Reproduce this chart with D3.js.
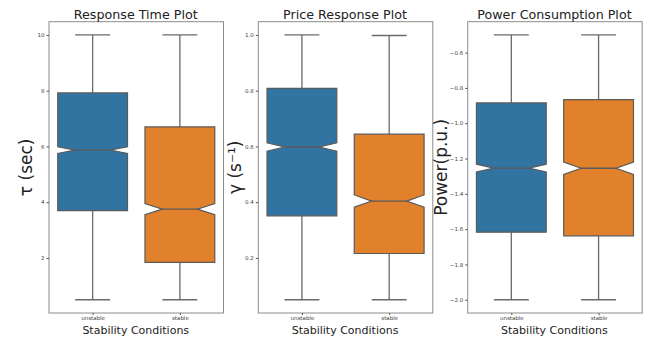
<!DOCTYPE html>
<html><head><meta charset="utf-8">
<script src="https://cdn.jsdelivr.net/npm/d3@7"></script>
<style>body{margin:0;background:#fff}svg{display:block}</style>
</head><body>
<svg id="c" width="650" height="337"></svg>
<script>
const categories = ["unstable", "stable"];

const titles = ["Response Time Plot", "Price Response Plot", "Power Consumption Plot"];
const yLabels = ["τ (sec)", "γ (s⁻¹)", "Power(p.u.)"];
const xLabel = "Stability Conditions";

// Response time box stats [unstable, stable]
const rtLow = [0.5, 0.5];
const rtQ1 = [3.70, 1.84];
const rtMed = [5.87, 3.75];
const rtQ3 = [7.92, 6.70];
const rtHigh = [10, 10];
const rtNotch = [0.12, 0.2];
const rtTicks = [2, 4, 6, 8, 10];

// Price response box stats
const prLow = [0.05, 0.05];
const prQ1 = [0.351, 0.216];
const prMed = [0.598, 0.404];
const prQ3 = [0.808, 0.644];
const prHigh = [1.0, 0.998];
const prNotch = [0.015, 0.022];
const prTicks = [0.2, 0.4, 0.6, 0.8, 1.0];

// Power consumption box stats
const pwLow = [-2.0, -2.0];
const pwQ1 = [-1.617, -1.638];
const pwMed = [-1.254, -1.255];
const pwQ3 = [-0.885, -0.866];
const pwHigh = [-0.5, -0.5];
const pwNotch = [0.022, 0.035];
const pwTicks = [-2.0, -1.8, -1.6, -1.4, -1.2, -1.0, -0.8, -0.6];

const colors = ["#3274a1", "#e1812c"];
const lineColor = "#6a6a6a";

const panels = [
  {low: rtLow, q1: rtQ1, med: rtMed, q3: rtQ3, high: rtHigh, notch: rtNotch, ticks: rtTicks, fmt: d3.format("d")},
  {low: prLow, q1: prQ1, med: prMed, q3: prQ3, high: prHigh, notch: prNotch, ticks: prTicks, fmt: d3.format(".1f")},
  {low: pwLow, q1: pwQ1, med: pwMed, q3: pwQ3, high: pwHigh, notch: pwNotch, ticks: pwTicks, fmt: d => d3.format(".1f")(d).replace("-", "−")}
];

const svg = d3.select("#c");
const lefts = [49, 258.3, 467.7];
const yLabelX = [25.5, 235, 441];
const pw = 174.5, plotTop = 21.7, plotBottom = 313;

panels.forEach((p, i) => {
  const x0 = lefts[i];
  const lo = d3.min(p.low), hi = d3.max(p.high);
  const m = (hi - lo) * 0.05;
  const y = d3.scaleLinear().domain([lo - m, hi + m]).range([plotBottom, plotTop]);
  const x = d3.scaleLinear().domain([-0.5, 1.5]).range([x0, x0 + pw]);
  const bw = (x(1) - x(0)) * 0.8;
  const g = svg.append("g");

  // frame
  g.append("rect").attr("x", x0).attr("y", plotTop).attr("width", pw).attr("height", plotBottom - plotTop)
    .attr("fill", "none").attr("stroke", "#8c8c8c").attr("stroke-width", 1);

  // y axis ticks
  const ya = d3.axisLeft(y).tickValues(p.ticks).tickFormat(p.fmt).tickSize(2.5).tickPadding(2);
  const yg = g.append("g").attr("transform", `translate(${x0},0)`).call(ya);
  yg.select(".domain").remove();
  yg.selectAll("line").attr("stroke", "#555");
  yg.selectAll("text").attr("font-family", "DejaVu Sans").attr("font-size", 5.5).attr("fill", "#444");

  // x axis ticks
  const xa = d3.axisBottom(x).tickValues([0, 1]).tickFormat(d => categories[d]).tickSize(2).tickPadding(1.5);
  const xg = g.append("g").attr("transform", `translate(0,${plotBottom})`).call(xa);
  xg.select(".domain").remove();
  xg.selectAll("line").attr("stroke", "#555");
  xg.selectAll("text").attr("font-family", "DejaVu Sans").attr("font-size", 5.5).attr("fill", "#444");

  categories.forEach((c, k) => {
    const cx = x(k);
    const bl = cx - bw / 2, br = cx + bw / 2;
    const nl = cx - bw / 4, nr = cx + bw / 4;
    const capL = cx - bw / 4, capR = cx + bw / 4;
    const nLo = p.med[k] - p.notch[k], nHi = p.med[k] + p.notch[k];
    // whiskers
    g.append("line").attr("x1", cx).attr("x2", cx).attr("y1", y(p.low[k])).attr("y2", y(p.q1[k]))
      .attr("stroke", lineColor).attr("stroke-width", 1.3);
    g.append("line").attr("x1", cx).attr("x2", cx).attr("y1", y(p.q3[k])).attr("y2", y(p.high[k]))
      .attr("stroke", lineColor).attr("stroke-width", 1.3);
    g.append("line").attr("x1", capL).attr("x2", capR).attr("y1", y(p.low[k])).attr("y2", y(p.low[k]))
      .attr("stroke", lineColor).attr("stroke-width", 1.3);
    g.append("line").attr("x1", capL).attr("x2", capR).attr("y1", y(p.high[k])).attr("y2", y(p.high[k]))
      .attr("stroke", lineColor).attr("stroke-width", 1.3);
    // notched box
    const pts = [
      [bl, y(p.q1[k])], [br, y(p.q1[k])], [br, y(nLo)], [nr, y(p.med[k])], [br, y(nHi)],
      [br, y(p.q3[k])], [bl, y(p.q3[k])], [bl, y(nHi)], [nl, y(p.med[k])], [bl, y(nLo)]
    ];
    g.append("path").attr("d", d3.line()(pts) + "Z").attr("fill", colors[k])
      .attr("stroke", "#5a5a5a").attr("stroke-width", 1.2).attr("stroke-linejoin", "miter");
    // median
    g.append("line").attr("x1", nl).attr("x2", nr).attr("y1", y(p.med[k])).attr("y2", y(p.med[k]))
      .attr("stroke", "#5a5a5a").attr("stroke-width", 1.3);
  });

  const cxm = x0 + pw / 2;
  svg.append("text").attr("x", cxm - 0.5).attr("y", 19.3).attr("text-anchor", "middle")
    .attr("font-family", "DejaVu Sans").attr("font-size", 12.7).attr("fill", "#222").text(titles[i]);
  svg.append("text").attr("x", cxm - 0.5).attr("y", 334).attr("text-anchor", "middle")
    .attr("font-family", "DejaVu Sans").attr("font-size", 11).attr("fill", "#222").text(xLabel);
  svg.append("text").attr("transform", `translate(${yLabelX[i]},${(plotTop + plotBottom) / 2}) rotate(-90)`)
    .attr("text-anchor", "middle").attr("dominant-baseline", "central")
    .attr("font-family", "DejaVu Sans").attr("font-size", 17).attr("fill", "#222").text(yLabels[i]);
});
</script>
</body></html>
